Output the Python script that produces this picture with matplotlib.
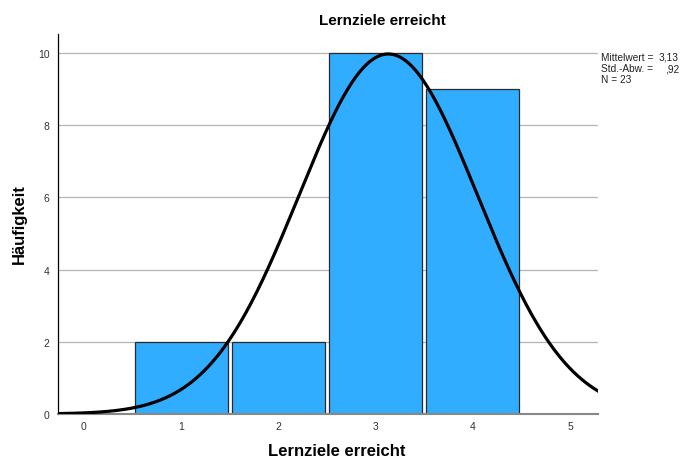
import numpy as np
import matplotlib.pyplot as plt

plt.rcParams['font.family'] = ['Liberation Sans', 'DejaVu Sans']

# Histogram data: score values and their counts
values = [1, 2, 3, 4]
counts = [2, 2, 10, 9]
x_ticks = [0, 1, 2, 3, 4, 5]
y_ticks = [0, 2, 4, 6, 8, 10]

vals = np.repeat(values, counts)
n = len(vals)
mean = vals.mean()
sd = vals.std(ddof=1)

W, H = 684, 464
fig = plt.figure(figsize=(6.84, 4.64), dpi=100)
ax = fig.add_axes([58/W, 1 - 415/H, 540/W, 380/H])

ax.grid(axis='y', color='#b4b4b4', linewidth=0.9, zorder=0)
ax.bar(values, counts, width=0.955, color='#31adff', edgecolor='#2a2a2a',
       linewidth=0.9, zorder=2)

# fitted normal curve, scaled to counts
xs = np.linspace(-0.27, 5.29, 400)
pdf = n * np.exp(-0.5 * ((xs - mean) / sd) ** 2) / (sd * np.sqrt(2 * np.pi))
ax.plot(xs, pdf, color='black', linewidth=2.3, zorder=3)

ax.set_xlim(-0.267, 5.288)
ax.set_ylim(0, 10.53)
ax.set_xticks(x_ticks)
ax.set_yticks(y_ticks)
ax.tick_params(axis='both', length=0, labelsize=7.5, colors='#333333')
ax.tick_params(axis='x', pad=5)
ax.tick_params(axis='y', pad=6)

for side in ['top', 'right']:
    ax.spines[side].set_visible(False)
ax.spines['left'].set_color('black')
ax.spines['left'].set_linewidth(0.9)
ax.spines['bottom'].set_color('#888888')
ax.spines['bottom'].set_linewidth(1.5)
ax.set_axisbelow(True)

fig.text(382/W, 1 - 21/H, 'Lernziele erreicht', fontsize=11, fontweight='bold',
         ha='center', va='center')
fig.text(337/W, 1 - 452/H, 'Lernziele erreicht', fontsize=12, fontweight='bold',
         ha='center', va='center')
fig.text(19/W, 1 - 224/H, 'Häufigkeit', fontsize=12, fontweight='bold',
         ha='center', va='center', rotation=90)

labels = ['Mittelwert =', 'Std.-Abw. =', 'N = %d' % n]
nums = [f'{mean:.2f}'.replace('.', ','), f'{sd:.2f}'.lstrip('0').replace('.', ','), '']
for i, (lab, num) in enumerate(zip(labels, nums)):
    y = 1 - (58 + i * 11) / H
    fig.text(601/W, y, lab, fontsize=7.3, ha='left', va='center', color='#222222')
    fig.text(679/W, y, num, fontsize=7.3, ha='right', va='center', color='#222222')

plt.savefig('out.png', dpi=100)
